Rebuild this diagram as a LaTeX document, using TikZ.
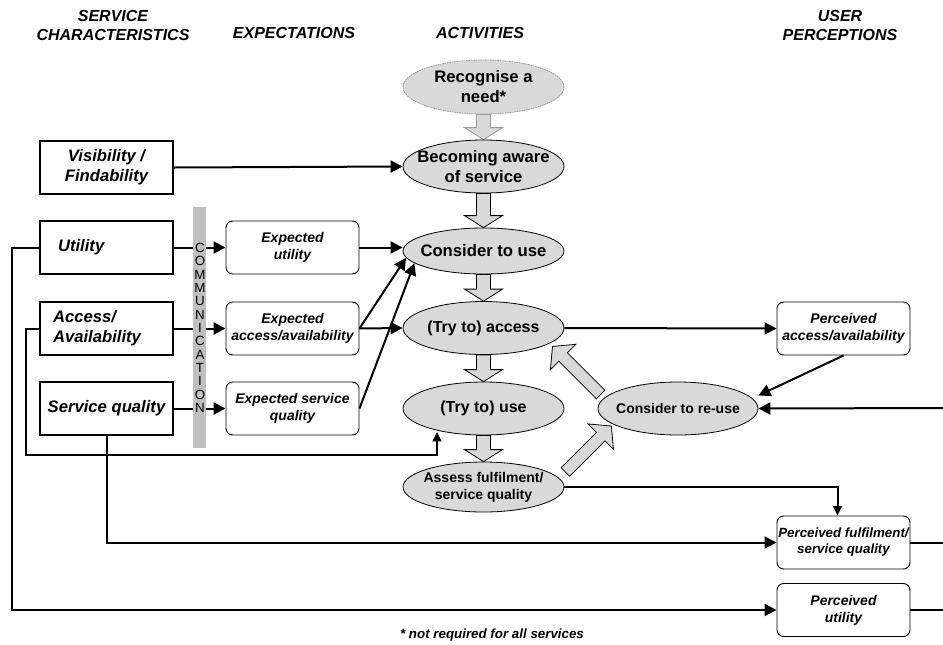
\documentclass[tikz,border=0pt]{standalone}
\usepackage{fontspec}
\setmainfont{Liberation Sans}
\usetikzlibrary{arrows.meta, calc, positioning, shapes.geometric, backgrounds}
\definecolor{actgray}{RGB}{217,217,217}
\definecolor{commgray}{RGB}{192,192,192}
\def\pxl{0.75pt}
\def\boxW{133}
\def\boxH{53}
\def\ellW{161}
\def\shaftHalf{7}
\def\headHalf{19}
\def\headLen{12}

\tikzset{
  header/.style={font=\bfseries\itshape\fontsize{12}{14}\selectfont, align=center, inner sep=0pt},
  charbox/.style={draw, line width=0.8pt, minimum width=\boxW*\pxl, minimum height=\boxH*\pxl, inner sep=0pt,
    font=\bfseries\itshape\fontsize{12.5}{15}\selectfont, align=center},
  expbox/.style={draw, rounded corners=5pt, line width=0.7pt, minimum width=\boxW*\pxl, minimum height=\boxH*\pxl,
    inner sep=0pt, font=\bfseries\itshape\fontsize{10.5}{12.6}\selectfont, align=center},
  activity/.style={ellipse, draw, fill=actgray, line width=0.6pt, minimum width=\ellW*\pxl, minimum height=53*\pxl,
    inner xsep=-10pt, inner ysep=0pt, font=\bfseries\fontsize{12.5}{15}\selectfont, align=center},
  commletter/.style={inner sep=0pt, font=\fontsize{10}{12}\selectfont},
  link/.style={line width=1.5pt, -{Triangle[length=9pt, width=9pt]}},
  small link/.style={line width=1.5pt, -{Triangle[length=7pt, width=6.5pt]}},
  plain link/.style={line width=1.5pt},
  fatarrow/.style={draw, fill=actgray, line width=0.6pt, line join=miter},
}

% slanted hollow arrow: tail, angle, length
\newcommand{\slantarrow}[3]{%
  \begin{scope}[shift={(#1)}, rotate=#2]
    \draw[fatarrow] (0,-6) -- (#3-15,-6) -- (#3-15,-18) -- (#3,0) -- (#3-15,18) -- (#3-15,6) -- (0,6) -- cycle;
  \end{scope}}

\begin{document}
\begin{tikzpicture}[x=0.75pt, y=-0.75pt]
  \useasboundingbox (0,0) rectangle (943,644);

  % Column headers
  \node[header] (hdChar) at (113,25.5) {SERVICE\\CHARACTERISTICS};
  \node[header] (hdExp) at (294,33) {EXPECTATIONS};
  \node[header] (hdAct) at (480,33) {ACTIVITIES};
  \node[header] (hdUser) at (840,25.5) {USER\\PERCEPTIONS};

  % Service characteristics
  \node[charbox] (visibility) at (106.5,167.5) {Visibility /\\Findability};
  \node[charbox, inner xsep=13.5pt, text width=72.75pt, align=left] (utility) at (106.5,247.5) {Utility};
  \node[charbox, inner xsep=9.75pt, text width=80.25pt, align=left] (availability) at (106.5,328.5) {Access/\\Availability};
  \node[charbox] (quality) at (106.5,408.5) {Service quality};

  % Communication bar
  \node[fill=commgray, minimum width=13*\pxl, minimum height=241*\pxl, inner sep=0pt] (commbar) at (199.5,327.5) {};
  \foreach \ch [count=\i from 0] in {C,O,M,M,U,N,I,C,A,T,I,O,N} {
    \node[commletter] (comm-\i) at (200,248+13.33*\i) {\ch};
  }

  % Expectations
  \node[expbox] (expUtility) at (292.5,247.5) {Expected\\utility};
  \node[expbox] (expAvailability) at (292.5,328.5) {Expected\\access/availability};
  \node[expbox] (expQuality) at (292.5,408.5) {Expected service\\quality};

  % Activities
  \node[activity, draw=black!40, dash pattern=on 1.2pt off 0.6pt, minimum height=54*\pxl] (recognise) at (483.5,87) {Recognise a\\need*};
  \node[activity] (aware) at (483.5,166.5) {Becoming aware\\of service};
  \node[activity, minimum height=46*\pxl] (consider) at (483.5,251) {Consider to use};
  \node[activity, font=\bfseries\fontsize{12}{14}\selectfont] (tryAccess) at (483.5,328) {(Try to) access};
  \node[activity, font=\bfseries\fontsize{12}{14}\selectfont] (tryUse) at (483.5,408.5) {(Try to) use};
  \node[activity, minimum height=50*\pxl, font=\bfseries\fontsize{10.5}{12.6}\selectfont] (assess) at (483.5,487) {Assess fulfilment/\\service quality};
  \node[activity, minimum width=160*\pxl, font=\bfseries\fontsize{10.5}{12.6}\selectfont] (reuse) at (678,408.5) {Consider to re-use};

  % User perceptions
  \node[expbox] (percAvailability) at (843.5,328.5) {Perceived\\access/availability};
  \node[expbox, font=\bfseries\itshape\fontsize{10}{12}\selectfont] (percFulfilment) at (843.5,542.5) {Perceived fulfilment/\\service quality};
  \node[expbox] (percUtility) at (843.5,610) {Perceived\\utility};

  \node[font=\bfseries\itshape\fontsize{10}{12}\selectfont, inner sep=0pt] (footnote) at (492,635) {* not required for all services};

  \coordinate (rightEdge) at (943,408);
  \coordinate (reuseTail) at ($(reuse.west)+(3,-14)$);
  \coordinate (assessTail) at ($(assess.east)+(1,-15)$);
  \coordinate (useFoot) at (437,455);

  % Hollow arrows between activities
  \begin{scope}[on background layer]
    \foreach \a/\b/\c in {recognise/aware/black!40, aware/consider/black, consider/tryAccess/black,
                          tryAccess/tryUse/black, tryUse/assess/black} {
      \draw[fatarrow, draw=\c] ($(\a.south)+(-\shaftHalf,0)$) -- ($(\b.north)+(-\shaftHalf,-\headLen)$)
        -- ($(\b.north)+(-\headHalf,-\headLen)$) -- (\b.north) -- ($(\b.north)+(\headHalf,-\headLen)$)
        -- ($(\b.north)+(\shaftHalf,-\headLen)$) -- ($(\a.south)+(\shaftHalf,0)$) -- cycle;
    }
    \slantarrow{reuseTail}{135}{68}
    \slantarrow{assessTail}{45}{65}
  \end{scope}

  % Characteristics into expectations
  \foreach \s/\t in {utility/expUtility, availability/expAvailability, quality/expQuality} {
    \draw[plain link] (\s.east) -- (\s.east -| commbar.west);
    \draw[link] (\t.west -| commbar.east) -- (\t.west);
  }

  % Into the activities
  \draw[link] (visibility.east) -- (aware.west);
  \draw[link] (expUtility.east) -- (expUtility.east -| consider.west);
  \draw[link] (expAvailability.east) -- (tryAccess.west);
  \draw[link] (expAvailability.east) -- (consider.185);
  \draw[link] (expQuality.east) -- (consider.190);

  % Perceptions and re-use
  \draw[link] (tryAccess.east) -- (percAvailability.west);
  \draw[link] (percAvailability.south) -- ($(reuse.east)+(0,-13)$);
  \draw[link] (rightEdge) -- (reuse.east);
  \draw[small link] (assess.east) -| ($(percFulfilment.north)+(-6,0)$);
  \draw[plain link] (percFulfilment.east) -- (percFulfilment.east -| rightEdge);
  \draw[plain link] (percUtility.east) -- (percUtility.east -| rightEdge);

  % Loops under the diagram
  \draw[small link] (availability.west) -- ++(-13,0) |- (useFoot) -- ++(0,-23);
  \draw[link] (quality.south) |- (percFulfilment.west);
  \draw[link] (utility.west) -- ++(-27,0) |- (percUtility.west);
\end{tikzpicture}
\end{document}
